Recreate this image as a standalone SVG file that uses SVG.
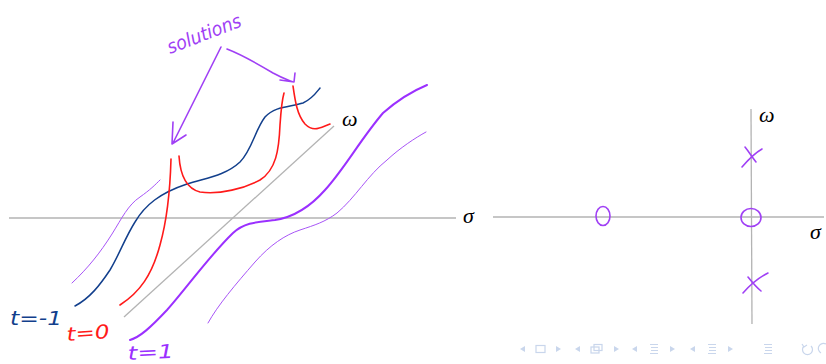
<svg xmlns="http://www.w3.org/2000/svg" width="826" height="364" viewBox="0 0 826 364">
<style>
.ax{stroke:#b3b3b3;stroke-width:1.3;fill:none}
.ink{fill:none;stroke-linecap:round;stroke-linejoin:round}
.red{stroke:#ff1a1a;stroke-width:1.6}
.blue{stroke:#123f8c;stroke-width:1.5}
.pt{stroke:#a855f7;stroke-width:1}
.pk{stroke:#9b30ff;stroke-width:2}
.pm{stroke:#a040f5;stroke-width:1.6}
.greek{font-family:"Liberation Serif",serif;font-style:italic;font-size:22px;fill:#000}
.hand{font-family:"DejaVu Sans","Liberation Sans",sans-serif;font-style:italic;font-size:19px}
.nav{fill:#c9d6ec;stroke:none}
.navs{fill:none;stroke:#c9d6ec;stroke-width:1.2}
</style>
<rect width="826" height="364" fill="#fff"/>
<g id="left-plane">
<line class="ax" x1="9" y1="218" x2="456" y2="218"/>
<line class="ax" x1="124" y1="317" x2="334" y2="126"/>
<text class="greek" x="463" y="223">σ</text>
<text class="greek" x="342" y="126">ω</text>
</g>
<g id="curves">
<path id="curve-tm1" class="ink blue" d="M75,306 C90,298 100,285 110,270 C120,253 125,238 135,222 C145,205 160,193 187,184 C205,178 225,176 240,162 C252,150 255,130 265,117 C275,106 290,107 303,103 C312,99 316,93 320,88"/>
<path id="curve-t0a" class="ink red" d="M120,305 C140,292 152,275 160,245 C167,220 170,195 171,159"/>
<path id="curve-t0b" class="ink red" d="M179,156 C180,172 184,188 200,192 C220,195 245,188 260,180 C276,170 279,150 280,125 C281,110 282,100 284,93"/>
<path id="curve-t0c" class="ink red" d="M293,86 C295,100 297,115 305,124 C312,131 318,129 325,126 L330,124"/>
<path id="curve-t1a" class="ink pt" d="M72,283 C88,268 100,253 112,234 C122,218 128,205 140,197 C150,190 155,185 160,180"/>
<path id="curve-t1b" class="ink pk" d="M130,340 C140,337 150,328 167,310 C185,290 210,255 233,233 C245,222 258,222 275,220 C295,217 310,207 325,190 C345,168 360,140 383,113 C400,98 415,90 427,85"/>
<path id="curve-t1c" class="ink pt" d="M208,323 C218,305 235,285 255,262 C270,245 285,235 300,230 C315,225 325,222 337,213 C355,198 368,175 387,160 C400,148 415,138 426,132"/>
</g>
<g id="labels">
<text class="hand" x="10" y="325" fill="#123f8c" textLength="52" lengthAdjust="spacingAndGlyphs">t=-1</text>
<text class="hand" x="67" y="341" fill="#ff1a1a" textLength="43" lengthAdjust="spacingAndGlyphs" transform="rotate(-4 67 341)">t=0</text>
<text class="hand" x="128" y="360" fill="#9b30ff" textLength="46" lengthAdjust="spacingAndGlyphs" transform="rotate(-3 128 360)">t=1</text>
</g>
<g id="solutions">
<text class="hand" x="170" y="54" fill="#a040f5" textLength="78" lengthAdjust="spacingAndGlyphs" transform="rotate(-21 170 54)">solutions</text>
<path class="ink pm" d="M221,47 L173,143 M173,122 L172,144 L186,135"/>
<path class="ink pm" d="M227,49 C240,54 258,64 273,73 C282,78 288,80 293,82 M280,80 L294,82 L295,73"/>
</g>
<g id="right-plane">
<line class="ax" x1="493" y1="217" x2="824" y2="217"/>
<line class="ax" x1="751" y1="109" x2="752" y2="324"/>
<text class="greek" x="810" y="239">σ</text>
<text class="greek" x="759" y="122">ω</text>
</g>
<g id="zeros-poles">
<ellipse id="zero1" class="ink pm" cx="603" cy="216" rx="7" ry="9.5"/>
<ellipse id="zero2" class="ink pm" cx="751" cy="217.5" rx="10" ry="9"/>
<path id="pole1" class="ink pm" d="M742,167 C748,160 755,153 762,149 M745,147 C749,152 752,157 756,162"/>
<path id="pole2" class="ink pm" d="M743,293 C750,285 760,277 768,273 M748,277 C752,282 756,287 761,291"/>
</g>
<g id="navigation">
<path class="nav" d="M520,349 L525,346 L525,352 Z"/>
<rect class="navs" x="536" y="345.5" width="9" height="7"/>
<path class="nav" d="M561,349 L556,346 L556,352 Z"/>
<path class="nav" d="M575,349 L580,346 L580,352 Z"/>
<rect class="navs" x="591" y="347" width="8" height="6"/>
<rect class="navs" x="594" y="344.5" width="8" height="6" fill="#fff"/>
<path class="nav" d="M619,349 L614,346 L614,352 Z"/>
<path class="nav" d="M632,349 L637,346 L637,352 Z"/>
<path class="navs" d="M650,344.5 H658 M651,347.5 H658 M651,350.5 H658 M650,353.5 H658"/>
<path class="nav" d="M675,349 L670,346 L670,352 Z"/>
<path class="nav" d="M690,349 L695,346 L695,352 Z"/>
<path class="navs" d="M708,344.5 H716 M709,347.5 H716 M709,350.5 H716 M708,353.5 H716"/>
<path class="nav" d="M733,349 L728,346 L728,352 Z"/>
<path class="navs" d="M764,344.5 H772 M765,347.5 H772 M765,350.5 H772 M764,353.5 H772"/>
<path class="navs" d="M804,346 A5,5 0 1 0 811,346 M802,344 L804,347 L807,345"/>
<path class="navs" d="M826,344 A5,5 0 0 0 821,353"/>
</g>
</svg>
